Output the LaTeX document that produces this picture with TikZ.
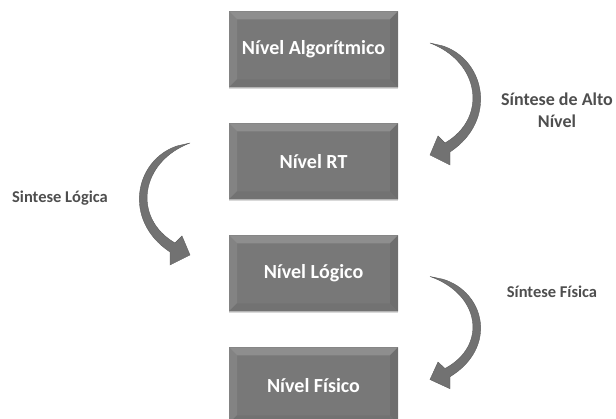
\documentclass[tikz,border=0pt]{standalone}
\usepackage{fontspec}
\setmainfont{Carlito}
\usetikzlibrary{positioning,calc,shadows}
\definecolor{boxgray}{HTML}{787878}
\definecolor{bevellight}{HTML}{8E8E8E}
\definecolor{bevelside}{HTML}{838383}
\definecolor{beveldark}{HTML}{6E6E6E}
\definecolor{bevelbottom}{HTML}{727272}
\definecolor{arrowgray}{HTML}{727272}
\definecolor{arrowedge}{HTML}{5C5C5C}
\definecolor{labelgray}{HTML}{4E4E4E}
\tikzstyle{levelbox} = [rectangle, minimum width=169pt, minimum height=76pt, inner sep=0pt, outer sep=0pt,
  fill=boxgray, text=white, font=\bfseries\fontsize{20}{24}\selectfont,
  drop shadow={shadow xshift=0pt, shadow yshift=-2pt, opacity=.15, fill=black},
  path picture={
    \coordinate (nw) at (path picture bounding box.north west);
    \coordinate (ne) at (path picture bounding box.north east);
    \coordinate (sw) at (path picture bounding box.south west);
    \coordinate (se) at (path picture bounding box.south east);
    \fill[bevellight] (nw) -- (ne) -- ([shift={(-8pt,-8pt)}]ne) -- ([shift={(8pt,-8pt)}]nw) -- cycle;
    \fill[bevelside] (nw) -- ([shift={(8pt,-8pt)}]nw) -- ([shift={(8pt,8pt)}]sw) -- (sw) -- cycle;
    \fill[beveldark] (ne) -- ([shift={(-8pt,-8pt)}]ne) -- ([shift={(-8pt,8pt)}]se) -- (se) -- cycle;
    \fill[bevelbottom] (sw) -- ([shift={(8pt,8pt)}]sw) -- ([shift={(-8pt,8pt)}]se) -- (se) -- cycle;
  }]
\tikzstyle{steplabel} = [text=labelgray, font=\bfseries\fontsize{16.5}{18}\selectfont, align=center]
\tikzset{bendarrow/.pic={
  \fill[arrowgray, draw=arrowedge, line width=.4pt] (0,0) -- (13,-3)
    .. controls (55,-17) and (68,-77) .. (20,-109) -- (20,-122) -- (0,-112) -- (8,-93) -- (15,-100)
    .. controls (58,-75) and (50,-19) .. (0,0) -- cycle;
}}

\begin{document}
\begin{tikzpicture}[x=1pt, y=1pt]
\useasboundingbox (0,0) rectangle (616,419);

% levels
\node[levelbox] (alg) at (313.5,369.5) {Nível Algorítmico};
\node[levelbox, below=36pt of alg] (rt) {Nível RT};
\node[levelbox, below=36pt of rt] (logico) {Nível Lógico};
\node[levelbox, below=36pt of logico] (fisico) {Nível Físico};

% synthesis steps
\pic at ($(alg.east)+(32,6.5)$) {bendarrow};
\pic[xscale=-1] at ($(rt.west)+(-39,18.5)$) {bendarrow};
\pic[yscale=.92] at ($(logico.east)+(32,-3)$) {bendarrow};

\node[steplabel, font=\bfseries\fontsize{18}{22}\selectfont] (altonivel) at (557,309) {Síntese de Alto\\Nível};
\node[steplabel] (sintlogica) at (60,221) {Sintese Lógica};
\node[steplabel] (sintfisica) at (552,127) {Síntese Física};
\end{tikzpicture}
\end{document}
